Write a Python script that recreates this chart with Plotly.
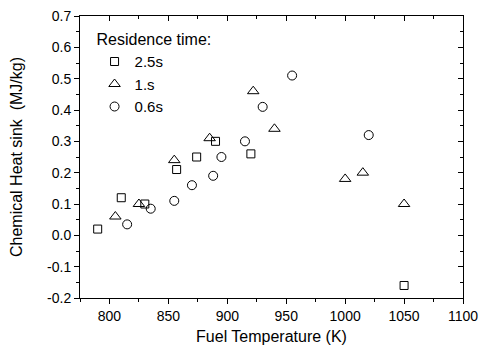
import plotly.graph_objects as go

# 2.5 s residence time (squares)
t_sq = [790, 810, 830, 857, 874, 890, 920, 1050]
h_sq = [0.02, 0.12, 0.10, 0.21, 0.25, 0.30, 0.26, -0.16]
# 1 s residence time (triangles)
t_tri = [805, 825, 855, 885, 922, 940, 1000, 1015, 1050]
h_tri = [0.06, 0.10, 0.24, 0.31, 0.46, 0.34, 0.18, 0.20, 0.10]
# 0.6 s residence time (circles)
t_ci = [815, 835, 855, 870, 888, 895, 915, 930, 955, 1020]
h_ci = [0.035, 0.085, 0.11, 0.16, 0.19, 0.25, 0.30, 0.41, 0.51, 0.32]

x_ticks = [800, 850, 900, 950, 1000, 1050, 1100]
y_ticks = [-0.2, -0.1, 0.0, 0.1, 0.2, 0.3, 0.4, 0.5, 0.6, 0.7]
y_ticktext = ["-0.2", "-0.1", "0.0", "0.1", "0.2", "0.3", "0.4", "0.5", "0.6", "0.7"]

FONT = "Liberation Sans, Arial, sans-serif"

fig = go.Figure()
series = [("2.5s", t_sq, h_sq, "square-open", 8, "x", "y"),
          ("1.s", t_tri, h_tri, "triangle-up-open", 10, "x", "y"),
          ("0.6s", t_ci, h_ci, "circle-open", 9, "x2", "y2")]
for name, xs, ys, sym, sz, xa, ya in series:
    fig.add_trace(go.Scatter(x=xs, y=ys, mode="markers", name=name, xaxis=xa, yaxis=ya,
                             marker=dict(symbol=sym, size=sz, color="black",
                                         line=dict(color="black", width=1))))

xr = [775, 1100]
yr = [-0.2, 0.7]
common = dict(showgrid=False, zeroline=False, showline=True, linecolor="black",
              linewidth=1, tickcolor="black", ticklen=5, tickwidth=1, automargin=False)
fig.update_layout(
    width=481, height=347,
    margin=dict(l=80, r=18, t=16, b=49),
    paper_bgcolor="white", plot_bgcolor="white",
    font=dict(family=FONT, size=14, color="black"),
    showlegend=True,
    legend=dict(x=0.038, y=0.97, xanchor="left", yanchor="top",
                bgcolor="rgba(0,0,0,0)", font=dict(size=15, family=FONT),
                title=dict(text="Residence time:", font=dict(size=16, family=FONT)),
                tracegroupgap=0),
    xaxis=dict(range=xr, tickvals=x_ticks, ticks="outside",
               minor=dict(dtick=25, tick0=775, ticks="outside", ticklen=3, tickcolor="black"),
               title=dict(text="Fuel Temperature (K)", font=dict(size=16), standoff=8),
               **common),
    yaxis=dict(range=yr, tickvals=y_ticks, ticktext=y_ticktext, ticks="outside",
               minor=dict(dtick=0.05, tick0=0, ticks="outside", ticklen=3, tickcolor="black"),
               title=dict(text="Chemical Heat sink\u00a0 (MJ/kg)", font=dict(size=16), standoff=20),
               **common),
    xaxis2=dict(range=xr, overlaying="x", side="top", ticks="inside",
                tickvals=x_ticks, showticklabels=False,
                minor=dict(dtick=25, tick0=775, ticks="inside", ticklen=3, tickcolor="black"),
                **common),
    yaxis2=dict(range=yr, overlaying="y", side="right", ticks="inside",
                tickvals=y_ticks, showticklabels=False,
                minor=dict(dtick=0.05, tick0=0, ticks="inside", ticklen=3, tickcolor="black"),
                **common),
)
fig.write_html("out.html")
